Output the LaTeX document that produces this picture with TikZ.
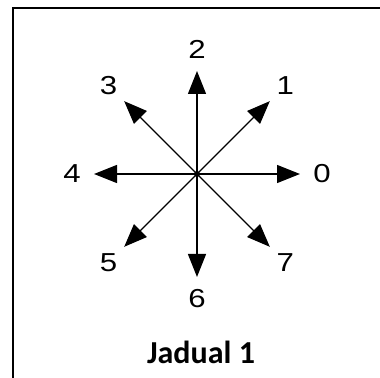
\documentclass[tikz,border=0pt]{standalone}
\usepackage{fontspec}
\newfontfamily\digitfont{Liberation Sans}
\newfontfamily\captionfont{Carlito}
\usetikzlibrary{arrows.meta}

\begin{document}
\begin{tikzpicture}[
    x=0.5pt, y=0.5pt,
    dirarrow/.style={-{Triangle[length=11.5pt, width=9pt]}, line width=0.65pt},
    dirlabel/.style={font=\digitfont\fontsize{13}{15}\selectfont, inner sep=0pt},
    caption/.style={font=\captionfont\bfseries\fontsize{16}{19}\selectfont, inner sep=0pt},
    frame/.style={line width=1pt}
]
    \useasboundingbox (0,0) rectangle (380,378);

    % frame (top and left side only)
    \draw[frame] (13,0) -- (13,370) -- (380,370);

    \coordinate (c) at (197,204);

    \foreach \i in {0,...,7} {
        \coordinate (tip\i) at ([shift={(45*\i:103)}]c);
        \node[dirlabel] (lab\i) at ([shift={(45*\i:125)}]c) {\scalebox{1.2}[1]{\i}};
        \draw[dirarrow] (c) -- (tip\i);
    }
    \fill (c) circle (3);

    \node[caption] (cap) at (201,26) {Jadual 1};
\end{tikzpicture}
\end{document}
